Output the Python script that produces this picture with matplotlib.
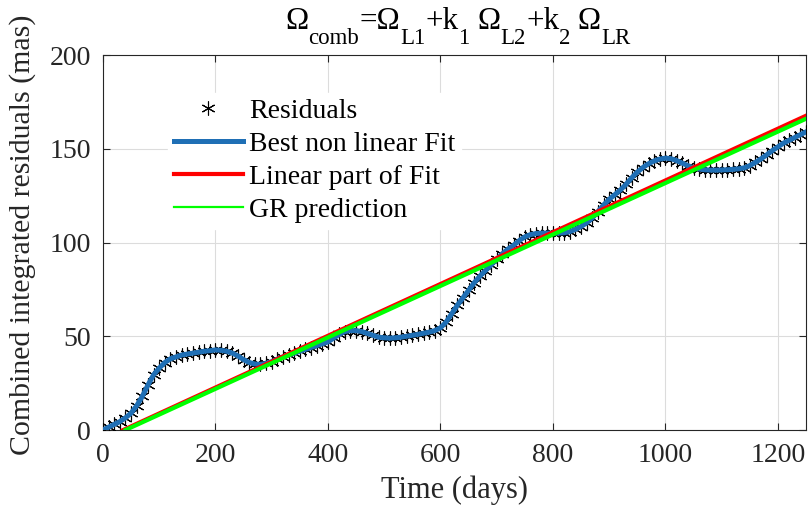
import matplotlib
matplotlib.use("Agg")
import matplotlib.pyplot as plt

plt.rcParams['font.family'] = ['Liberation Serif', 'DejaVu Serif']

# ---- data ----
days = [0, 10, 20, 30, 40, 50, 60, 70, 80, 90, 100, 110, 120, 130, 140, 150, 160, 170, 180, 190,
        200, 210, 220, 230, 240, 250, 260, 270, 280, 290, 300, 310, 320, 330, 340, 350, 360, 370, 380, 390,
        400, 410, 420, 430, 440, 450, 460, 470, 480, 490, 500, 510, 520, 530, 540, 550, 560, 570, 580, 590,
        600, 610, 620, 630, 640, 650, 660, 670, 680, 690, 700, 710, 720, 730, 740, 750, 760, 770, 780, 790,
        800, 810, 820, 830, 840, 850, 860, 870, 880, 890, 900, 910, 920, 930, 940, 950, 960, 970, 980, 990,
        1000, 1010, 1020, 1030, 1040, 1050, 1060, 1070, 1080, 1090, 1100, 1110, 1120, 1130, 1140, 1150,
        1160, 1170, 1180, 1190, 1200, 1210, 1220, 1230, 1240, 1250]
residuals = [0, 1.5, 3, 4.5, 6.5, 9, 13, 18, 24, 29.5, 33, 36, 38, 39, 40, 40.5, 41, 41.5, 42, 42.3,
             42.7, 42.5, 42, 41, 39.5, 37.5, 36, 35.2, 35, 35.5, 36.5, 37.8, 39, 40, 41, 42, 43, 44, 45, 46,
             47, 49, 51, 52.5, 53, 53, 52.5, 51.5, 50.5, 49.5, 49.2, 49, 49.2, 49.5, 50, 50.5, 51, 51.6, 52.2, 53,
             54.5, 57.5, 62, 66.5, 70.5, 74.5, 78.5, 82, 85, 88, 91, 94, 96.5, 98.5, 101, 103, 104.2, 104.8, 105, 105,
             105, 105, 105.2, 105.8, 107, 108.5, 110.5, 113, 116.5, 120, 123, 125.5, 128, 131, 134.5, 137.5, 140, 142, 143.5, 144.5,
             145, 144.7, 143.7, 142.3, 141, 139.8, 139.2, 138.8, 138.6, 138.6, 138.7, 138.8, 139, 139.3, 139.8, 141,
             142.7, 144.6, 146.7, 149, 151, 153, 154.5, 156, 157.5, 159]
fit_values = residuals

linear_days = [36, 1250]
linear_values = [0, 167.6]
gr_days = [40, 1250]
gr_values = [0, 166.0]

x_ticks = [0, 200, 400, 600, 800, 1000, 1200]
y_ticks = [0, 50, 100, 150, 200]

# title pieces: (text, is_subscript)
title_parts = [("Ω", False), ("comb", True), ("=Ω", False), ("L1", True), ("+k", False), ("1", True),
               (" Ω", False), ("L2", True), ("+k", False), ("2", True), (" Ω", False), ("LR", True)]

# ---- figure ----
W, H = 808, 511
fig = plt.figure(figsize=(W / 100, H / 100), dpi=100)
ax = fig.add_axes([103 / W, 1 - 430 / H, 703 / W, 375 / H])

ax.plot(days, residuals, linestyle='none', marker=(6, 2, 0), markersize=10,
        markeredgewidth=0.8, color='black', label='Residuals', zorder=3)
ax.plot(days, fit_values, color='#1f6fb5', linewidth=3.6, label='Best non linear Fit', zorder=4)
ax.plot(linear_days, linear_values, color='#ff0000', linewidth=3.0, label='Linear part of Fit', zorder=5)
ax.plot(gr_days, gr_values, color='#00ff00', linewidth=3.0, label='GR prediction', zorder=6)

ax.set_xlim(0, 1250)
ax.set_ylim(0, 200)
ax.set_xticks(x_ticks)
ax.set_yticks(y_ticks)
ax.tick_params(direction='in', length=5, width=0.8, labelsize=20, top=True, right=True,
               colors='#262626', labelcolor='#262626')
ax.tick_params(axis='x', pad=9.5)
ax.tick_params(axis='y', pad=8.5)
ax.grid(True, color='#dcdcdc', linewidth=0.8)
ax.set_axisbelow(True)
for s in ax.spines.values():
    s.set_color('#262626')
    s.set_linewidth(0.8)

ax.set_xlabel('Time (days)', fontsize=22, color='#262626', labelpad=5)
ax.set_ylabel('Combined integrated residuals (mas)', fontsize=21.5, color='#262626', labelpad=10)
ax.yaxis.label.set_y(0.52)

leg_handles, leg_labels = ax.get_legend_handles_labels()
leg = ax.legend(leg_handles, leg_labels, loc='upper left', bbox_to_anchor=(0.093, 0.90),
                fontsize=20, frameon=True, fancybox=False, edgecolor='white', facecolor='white',
                framealpha=1, handlelength=2.48, handletextpad=0.22, labelspacing=0.28,
                borderpad=0.2, borderaxespad=0)
for h in leg.legend_handles:
    if h.get_label() == 'GR prediction':
        h.set_linewidth(1.6)

# ---- title built from pieces (MATLAB-like subscripts) ----
fig.canvas.draw()
renderer = fig.canvas.get_renderer()
main_size, sub_size = 22.5, 16.5
widths = []
for txt, sub in title_parts:
    t = fig.text(0, 0, txt, fontsize=sub_size if sub else main_size)
    widths.append(t.get_window_extent(renderer).width)
    t.remove()
total = sum(widths)
x0 = 458 - total / 2
base_main = H - 29
base_sub = H - 44
for (txt, sub), w in zip(title_parts, widths):
    fig.text(x0 / W, (base_sub if sub else base_main) / H, txt,
             fontsize=sub_size if sub else main_size, color='black',
             ha='left', va='baseline')
    x0 += w

fig.savefig('out.png', dpi=100)
